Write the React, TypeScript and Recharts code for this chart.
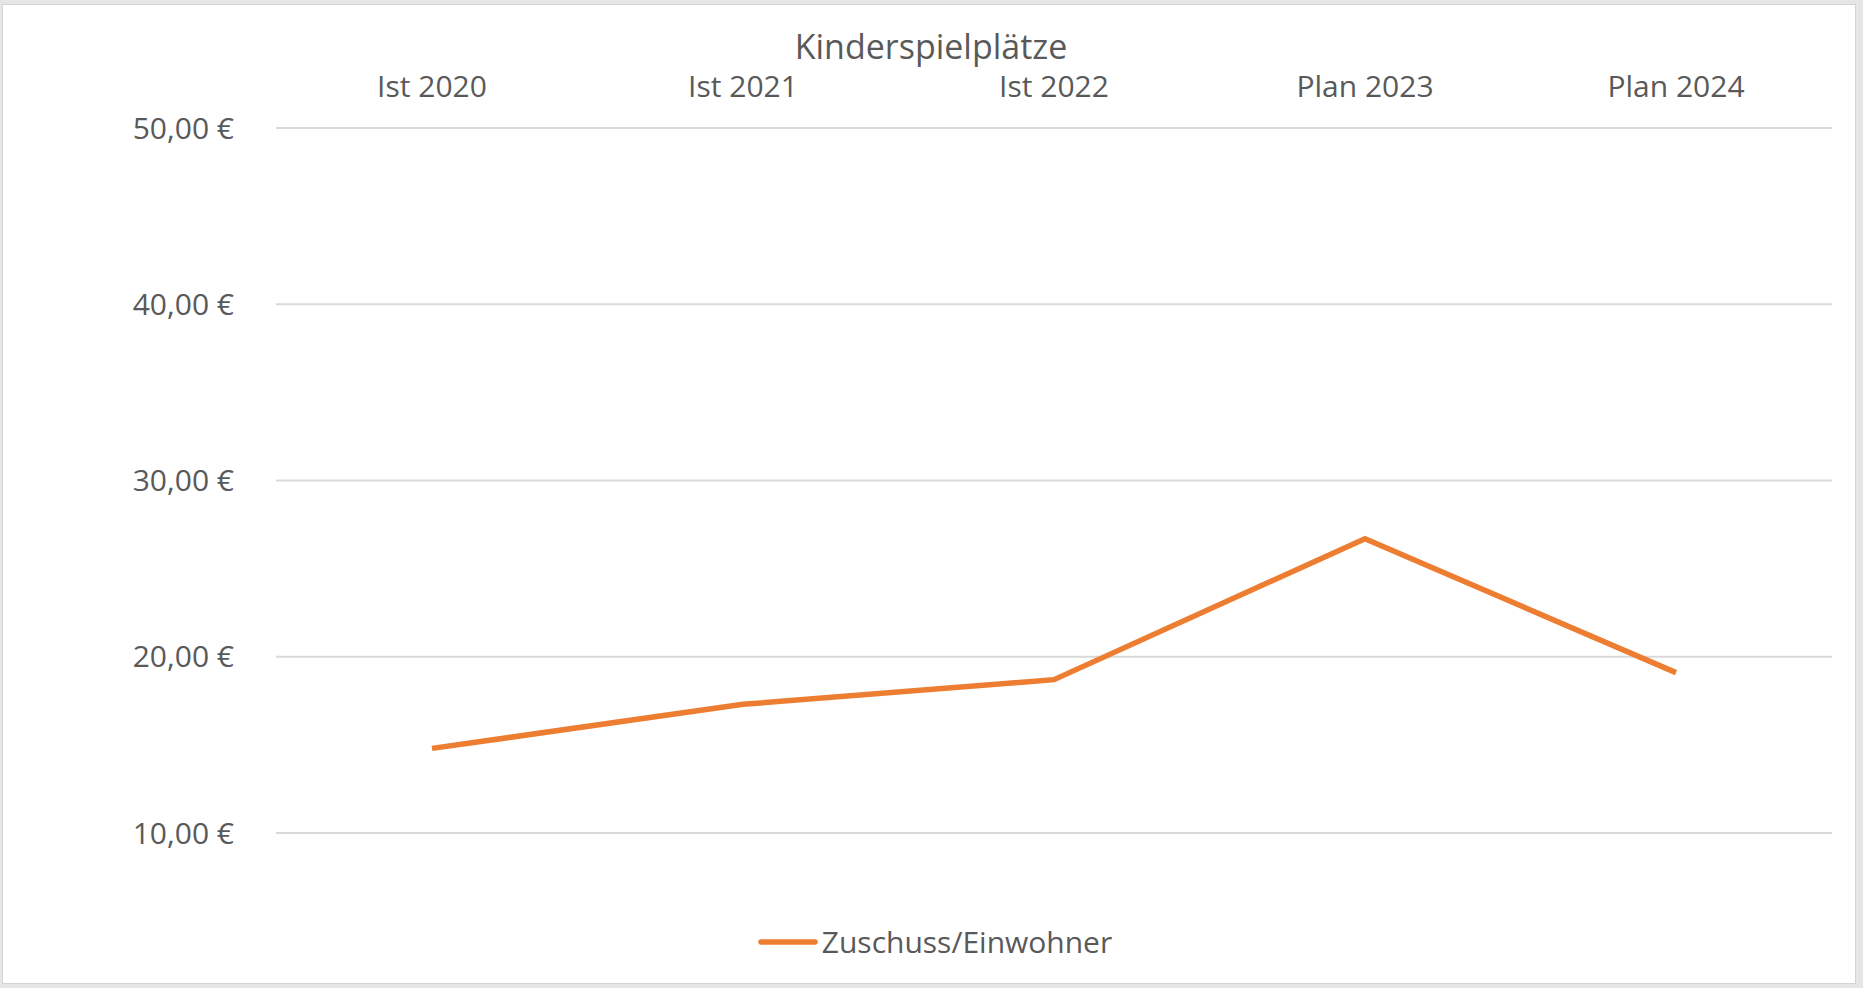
import React from "react";
import { LineChart, Line, XAxis, YAxis, CartesianGrid, Legend } from "recharts";

const categories = ["Ist 2020", "Ist 2021", "Ist 2022", "Plan 2023", "Plan 2024"];
const zuschussValues = [14.8, 17.3, 18.7, 26.7, 19.1];
const yTicks = [10, 20, 30, 40, 50];
const chartTitle = "Kinderspielplätze";
const seriesName = "Zuschuss/Einwohner";

const data = categories.map((c, i) => ({ name: c, value: zuschussValues[i] }));

const FONT = "'Open Sans', 'Noto Sans', sans-serif";
const TEXT = "#595959";
const ORANGE = "#ED7D31";

const fmt = (v: number) => v.toFixed(2).replace(".", ",") + "\u00a0€";

const LegendContent = () => (
  <div style={{ display: "flex", alignItems: "center", justifyContent: "center", fontFamily: FONT, fontSize: 30, color: TEXT, paddingTop: 89, paddingLeft: 38, lineHeight: "40px" }}>
    <svg width={60} height={10} style={{ marginRight: 4 }}>
      <line x1={3} y1={5} x2={57} y2={5} stroke={ORANGE} strokeWidth={5.5} strokeLinecap="round" />
    </svg>
    <span>{seriesName}</span>
  </div>
);

export default function App() {
  return (
    <div style={{ position: "absolute", left: 0, top: 0, width: 1863, height: 988, background: "#e6e6e6" }}>
      <div style={{ position: "absolute", left: 2, top: 4, width: 1852, height: 978, background: "#fff", border: "1px solid #d4d4d4" }} />
      <div style={{ position: "absolute", left: 931, top: 29, transform: "translateX(-50%)", whiteSpace: "nowrap", fontFamily: FONT, fontSize: 34, lineHeight: "34px", color: TEXT }}>
        {chartTitle}
      </div>
      <div style={{ position: "absolute", left: 0, top: 0 }}>
        <LineChart width={1863} height={988} data={data} margin={{ top: 0, right: 31, bottom: 0, left: 0 }}>
          <CartesianGrid horizontal={true} vertical={false} stroke="#d9d9d9" strokeWidth={2} />
          <XAxis
            dataKey="name"
            orientation="top"
            height={128}
            axisLine={false}
            tickLine={false}
            tickSize={0}
            tickMargin={31}
            interval={0}
            padding={{ left: 156, right: 156 }}
            tick={{ fill: TEXT, fontSize: 30, fontFamily: FONT }}
          />
          <YAxis
            type="number"
            domain={[10, 50]}
            ticks={yTicks}
            width={276}
            axisLine={false}
            tickLine={false}
            tickSize={0}
            tickMargin={42}
            tickFormatter={fmt}
            tick={{ fill: TEXT, fontSize: 30, fontFamily: FONT }}
          />
          <Legend verticalAlign="bottom" height={155} content={<LegendContent />} />
          <Line
            type="linear"
            dataKey="value"
            name={seriesName}
            stroke={ORANGE}
            strokeWidth={5.5}
            dot={false}
            activeDot={false}
            isAnimationActive={false}
          />
        </LineChart>
      </div>
    </div>
  );
}
